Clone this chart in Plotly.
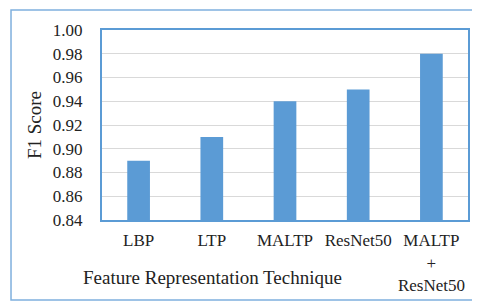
import plotly.graph_objects as go

# data
techniques = ["LBP", "LTP", "MALTP", "ResNet50", "MALTP<br>+<br>ResNet50"]
f1_scores = [0.89, 0.91, 0.94, 0.95, 0.98]
y_ticks = [0.84, 0.86, 0.88, 0.90, 0.92, 0.94, 0.96, 0.98, 1.00]

blue = "#5b9bd5"
serif = "Liberation Serif, Times New Roman, serif"

bars = go.Bar(x=techniques, y=f1_scores, marker=dict(color=blue, line=dict(width=0)))

fig = go.Figure(data=bars)
fig.update_layout(
    width=480, height=302,
    margin=dict(l=94, r=20, t=22, b=90),
    paper_bgcolor="white", plot_bgcolor="white",
    font=dict(family=serif, size=17, color="#222"),
    bargap=0.69,
    showlegend=False,
)
fig.update_yaxes(
    range=[0.84, 1.00], tickvals=y_ticks, tickformat=".2f",
    showgrid=True, gridcolor="#d9d9d9", gridwidth=1,
    showline=True, linecolor=blue, linewidth=2, mirror=True,
    ticklabelstandoff=14, zeroline=False, automargin=False,
    title=dict(text="F1 Score", font=dict(size=19), standoff=6),
)
fig.update_xaxes(
    showline=True, linecolor=blue, linewidth=2, mirror=True,
    ticklabelstandoff=4, tickangle=0, automargin=False,
)

# x-axis title sits left of centre in the original
fig.add_annotation(text="Feature Representation Technique", xref="paper", yref="paper",
                   x=0.303, y=-0.305, showarrow=False, font=dict(size=19),
                   xanchor="center", yanchor="middle")

# outer chart border
fig.add_shape(type="rect", xref="paper", yref="paper",
              x0=-0.2486, x1=1.041, y0=-0.421, y1=1.105,
              line=dict(color="#7fb0de", width=1.5))

fig.write_html("out.html")
